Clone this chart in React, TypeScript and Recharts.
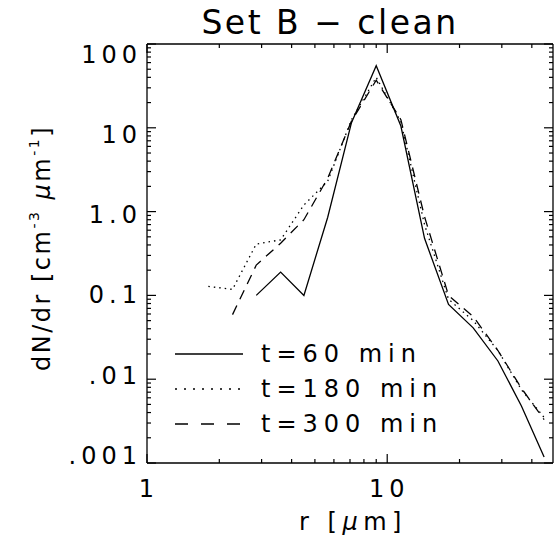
import { LineChart, Line, XAxis, YAxis, Legend } from 'recharts';

// radius bins (µm) shared by all three series
const radius = [1.8, 2.27, 2.85, 3.6, 4.5, 5.65, 7.1, 9.0, 11.4, 14.3, 18.0, 22.8, 28.9, 36.2, 45.0];

const t60 = [null, null, 0.1, 0.19, 0.1, 0.85, 11.5, 55, 10.5, 0.48, 0.078, 0.041, 0.0165, 0.0048, 0.00118];
const t180 = [0.128, 0.118, 0.41, 0.46, 1.2, 2.3, 12.5, 40, 11.8, 0.7, 0.09, 0.05, 0.022, 0.0075, 0.0035];
const t300 = [null, 0.059, 0.23, 0.42, 0.8, 2.5, 12, 37, 12.5, 0.87, 0.1, 0.056, 0.022, 0.0078, 0.0033];

const xTicks = [1, 2, 3, 4, 5, 6, 7, 8, 9, 10, 20, 30, 40];
const xLabels: Record<number, string> = { 1: '1', 10: '10' };

const yTicks = [
  0.001, 0.002, 0.003, 0.004, 0.005, 0.006, 0.007, 0.008, 0.009,
  0.01, 0.02, 0.03, 0.04, 0.05, 0.06, 0.07, 0.08, 0.09,
  0.1, 0.2, 0.3, 0.4, 0.5, 0.6, 0.7, 0.8, 0.9,
  1, 2, 3, 4, 5, 6, 7, 8, 9,
  10, 20, 30, 40, 50, 60, 70, 80, 90, 100,
];
const yLabels: Record<number, string> = { 0.001: '.001', 0.01: '.01', 0.1: '0.1', 1: '1.0', 10: '10', 100: '100' };

const series = [
  { key: 't60', name: 't=60 min', dash: undefined, legendDash: undefined },
  { key: 't180', name: 't=180 min', dash: '1.5 4', legendDash: '2 7' },
  { key: 't300', name: 't=300 min', dash: '10 7', legendDash: '13 13' },
];

const data = radius.map((r, i) => ({ r, t60: t60[i], t180: t180[i], t300: t300[i] }));

const FONT = '"DejaVu Sans", sans-serif';
const MAJOR = 9;
const MINOR = 4;

const BottomTick = ({ x, y, payload }: any) => {
  const lab = xLabels[payload.value];
  return (
    <g>
      <line x1={x} y1={y} x2={x} y2={y - (lab ? MAJOR : MINOR)} stroke="#000" strokeWidth={1.2} />
      {lab && (
        <text x={x + 2} y={y + 34} textAnchor="middle" fontSize={24} letterSpacing={5} fill="#000" fontFamily={FONT}>
          {lab}
        </text>
      )}
    </g>
  );
};

const TopTick = ({ x, y, payload }: any) => {
  const lab = xLabels[payload.value];
  return <line x1={x} y1={y} x2={x} y2={y + (lab ? MAJOR : MINOR)} stroke="#000" strokeWidth={1.2} />;
};

const LeftTick = ({ x, y, payload }: any) => {
  const lab = yLabels[payload.value];
  // labels in the original sit below the tick at the top and above it at the bottom
  const baseline = 11.5 + 3.6 * Math.log10(payload.value);
  return (
    <g>
      <line x1={x} y1={y} x2={x + (lab ? MAJOR : MINOR)} y2={y} stroke="#000" strokeWidth={1.2} />
      {lab && (
        <text x={x - 5} y={y + baseline} textAnchor="end" fontSize={24} letterSpacing={5} fill="#000" fontFamily={FONT}>
          {lab}
        </text>
      )}
    </g>
  );
};

const RightTick = ({ x, y, payload }: any) => {
  const lab = yLabels[payload.value];
  return <line x1={x} y1={y} x2={x - (lab ? MAJOR : MINOR)} y2={y} stroke="#000" strokeWidth={1.2} />;
};

const renderLegend = () => (
  <div style={{ fontFamily: FONT }}>
    {series.map((s) => (
      <div key={s.key} style={{ display: 'flex', alignItems: 'center', height: 35 }}>
        <svg width={70} height={10}>
          <line x1={0} y1={5} x2={68} y2={5} stroke="#000" strokeWidth={1.3} strokeDasharray={s.legendDash} />
        </svg>
        <span style={{ marginLeft: 16, fontSize: 24, letterSpacing: 6 }}>{s.name}</span>
      </div>
    ))}
  </div>
);

export default function App() {
  return (
    <div style={{ position: 'absolute', left: 0, top: 0, background: '#fff' }}>
      <LineChart
        width={555}
        height={548}
        data={data}
        margin={{ top: 43, right: 1, left: 0, bottom: 0 }}
        style={{ fontFamily: FONT }}
      >
        <XAxis
          dataKey="r"
          type="number"
          scale="log"
          domain={[1, 49]}
          allowDataOverflow
          ticks={xTicks}
          interval={0}
          height={85}
          tickSize={0}
          tickMargin={0}
          tick={<BottomTick />}
          axisLine={{ stroke: '#000', strokeWidth: 1.3 }}
          label={{
            content: () => (
              <text x={353} y={530} textAnchor="middle" fontSize={24} letterSpacing={5.5} fill="#000" fontFamily={FONT}>
                r [<tspan fontStyle="italic">μ</tspan>m]
              </text>
            ),
          }}
        />
        <XAxis
          xAxisId="top"
          orientation="top"
          dataKey="r"
          type="number"
          scale="log"
          domain={[1, 49]}
          allowDataOverflow
          ticks={xTicks}
          interval={0}
          height={1}
          tickSize={0}
          tickMargin={0}
          tick={<TopTick />}
          axisLine={{ stroke: '#000', strokeWidth: 1.3 }}
          label={{
            content: () => (
              <text x={330} y={34} textAnchor="middle" fontSize={33} letterSpacing={2.5} fill="#000" fontFamily={FONT}>
                Set B − clean
              </text>
            ),
          }}
        />
        <YAxis
          type="number"
          scale="log"
          domain={[0.001, 100]}
          allowDataOverflow
          ticks={yTicks}
          interval={0}
          width={147}
          tickSize={0}
          tickMargin={0}
          tick={<LeftTick />}
          axisLine={{ stroke: '#000', strokeWidth: 1.3 }}
          label={{
            content: () => (
              <text
                x={50}
                y={248}
                transform="rotate(-90, 50, 248)"
                textAnchor="middle"
                fontSize={24}
                letterSpacing={2.5}
                fill="#000"
                fontFamily={FONT}
              >
                dN/dr [cm
                <tspan fontSize={14} dy={-11}>-3</tspan>
                <tspan dy={11}> </tspan>
                <tspan fontStyle="italic">μ</tspan>m
                <tspan fontSize={14} dy={-11}>-1</tspan>
                <tspan dy={11}>]</tspan>
              </text>
            ),
          }}
        />
        <YAxis
          yAxisId="right"
          orientation="right"
          type="number"
          scale="log"
          domain={[0.001, 100]}
          allowDataOverflow
          ticks={yTicks}
          interval={0}
          width={1}
          tickSize={0}
          tickMargin={0}
          tick={<RightTick />}
          axisLine={{ stroke: '#000', strokeWidth: 1.3 }}
        />
        <Legend
          layout="vertical"
          align="center"
          verticalAlign="middle"
          content={renderLegend}
          wrapperStyle={{ position: 'absolute', left: 175, top: 336, width: 320 }}
        />
        {series.map((s) => (
          <Line
            key={s.key}
            dataKey={s.key}
            name={s.name}
            stroke="#000"
            strokeWidth={1.3}
            strokeDasharray={s.dash}
            dot={false}
            connectNulls={false}
            isAnimationActive={false}
          />
        ))}
      </LineChart>
    </div>
  );
}
